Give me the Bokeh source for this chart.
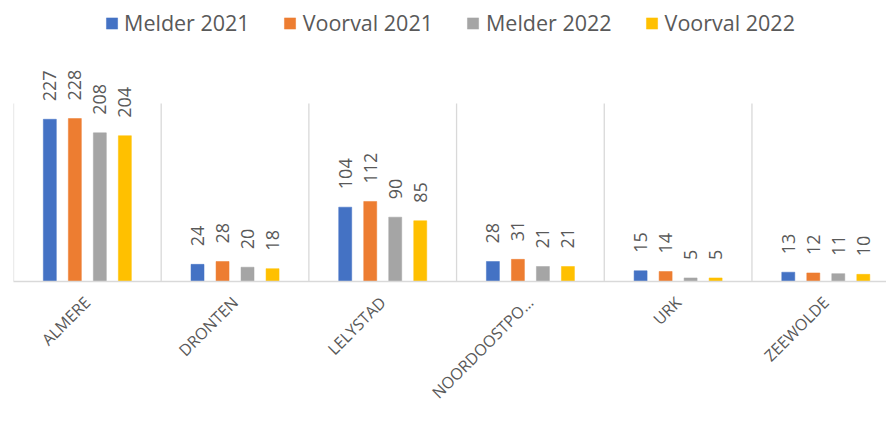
import numpy as np
from bokeh.plotting import figure
from bokeh.models import (ColumnDataSource, Range1d, FixedTicker, Legend, LegendItem,
                          LabelSet)
from bokeh.core.properties import value
from bokeh.embed import file_html
from bokeh.resources import INLINE

# ---- data ----
categories = ["ALMERE", "DRONTEN", "LELYSTAD", "NOORDOOSTPO…", "URK", "ZEEWOLDE"]
series_names = ["Melder 2021", "Voorval 2021", "Melder 2022", "Voorval 2022"]
melder_2021 = [227, 24, 104, 28, 15, 13]
voorval_2021 = [228, 28, 112, 31, 14, 12]
melder_2022 = [208, 20, 90, 21, 5, 11]
voorval_2022 = [204, 18, 85, 21, 5, 10]
series_values = [melder_2021, voorval_2021, melder_2022, voorval_2022]
colors = ["#4472C4", "#ED7D31", "#A5A5A5", "#FFC000"]

# ---- style / layout ----
FONT = "Open Sans"
TEXT_COLOR = "#595959"
GRID_COLOR = "#D9D9D9"
offsets = [-0.254, -0.0846, 0.0846, 0.254]
bar_width = 0.088
grid_top = 249

W, H = 886, 422
p = figure(width=W, height=H, output_backend="svg", toolbar_location=None,
           x_range=Range1d(0, 5.911), y_range=Range1d(0, 382),
           y_axis_location=None, min_border_left=13, min_border_right=0,
           min_border_top=8, min_border_bottom=141)
p.outline_line_color = None
p.xgrid.visible = False
p.ygrid.visible = False
p.background_fill_color = "white"
p.border_fill_color = "white"

centers = np.arange(len(categories)) + 0.5

# vertical separators
bounds = np.arange(len(categories) + 1)
p.segment(x0=bounds, y0=np.zeros(len(bounds)), x1=bounds, y1=np.full(len(bounds), grid_top),
          line_color=GRID_COLOR, line_width=1.3)

renderers = []
for name, vals, col, off in zip(series_names, series_values, colors, offsets):
    src = ColumnDataSource(dict(x=centers + off, top=vals, lbl=[str(v) for v in vals]))
    r = p.vbar(x="x", top="top", width=bar_width, bottom=0, source=src,
               fill_color=col, line_color=col, line_width=0.5)
    renderers.append((name, r))
    labels = LabelSet(x="x", y="top", text="lbl", source=src, angle=np.pi / 2,
                      text_align="left", text_baseline="middle", y_offset=18,
                      text_font=value(FONT), text_font_size=value("18px"),
                      text_color=value(TEXT_COLOR))
    p.add_layout(labels)

# x axis
ax = p.xaxis[0]
ax.ticker = FixedTicker(ticks=list(centers))
ax.major_label_overrides = {float(c): lab for c, lab in zip(centers, categories)}
ax.major_label_orientation = np.pi / 4
ax.major_label_text_font = FONT
ax.major_label_text_font_size = "16px"
ax.major_label_text_color = TEXT_COLOR
ax.major_tick_line_color = None
ax.minor_tick_line_color = None
ax.major_tick_out = 0
ax.major_tick_in = 0
ax.major_label_standoff = 18
ax.axis_line_color = GRID_COLOR
ax.axis_line_width = 1.5

legend = Legend(items=[LegendItem(label=n, renderers=[r]) for n, r in renderers],
                orientation="horizontal", location="top_center",
                label_text_font=FONT, label_text_font_size="21.5px",
                label_text_color=TEXT_COLOR, glyph_width=14, glyph_height=14,
                label_standoff=6, spacing=33, padding=0, margin=0,
                label_height=28, border_line_color=None, background_fill_alpha=0)
p.add_layout(legend)

open("out.html", "w").write(file_html(p, INLINE))
